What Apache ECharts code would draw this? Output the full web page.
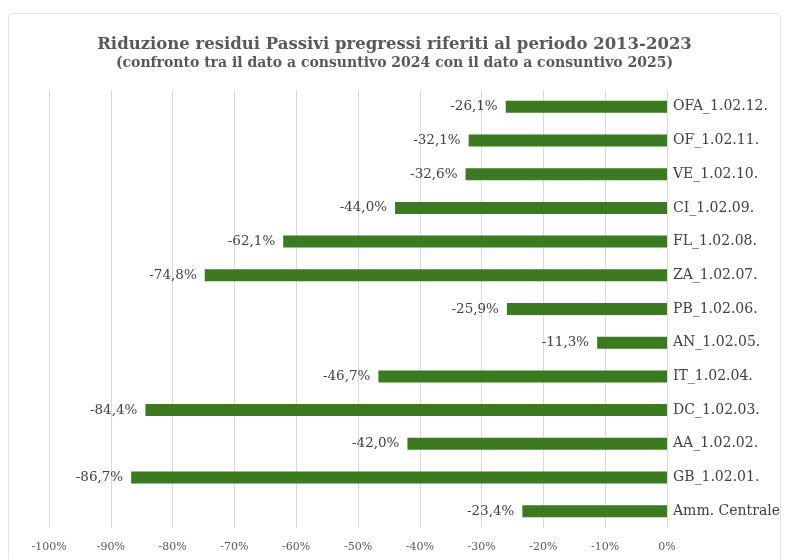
<!DOCTYPE html>
<html>
<head>
<meta charset="utf-8">
<script src="https://cdn.jsdelivr.net/npm/echarts@6/dist/echarts.min.js"></script>
<style>
  html, body { margin: 0; padding: 0; background: #ffffff; }
  #chart { width: 789px; height: 559px; }
</style>
</head>
<body>
<div id="chart"></div>
<script>
// Categories listed bottom-to-top (ECharts draws the first category at the bottom)
const categories = [
  'Amm. Centrale', 'GB_1.02.01.', 'AA_1.02.02.', 'DC_1.02.03.', 'IT_1.02.04.',
  'AN_1.02.05.', 'PB_1.02.06.', 'ZA_1.02.07.', 'FL_1.02.08.', 'CI_1.02.09.',
  'VE_1.02.10.', 'OF_1.02.11.', 'OFA_1.02.12.'
];
// Percentage reduction of past liabilities per unit
const reduction = [
  -23.4, -86.7, -42.0, -84.4, -46.7,
  -11.3, -25.9, -74.8, -62.1, -44.0,
  -32.6, -32.1, -26.1
];

const serif = '"DejaVu Serif", "Liberation Serif", serif';
const chart = echarts.init(document.getElementById('chart'), null, { renderer: 'canvas' });

chart.setOption({
  backgroundColor: '#ffffff',
  animation: false,
  title: {
    text: 'Riduzione residui Passivi pregressi riferiti al periodo 2013-2023',
    subtext: '(confronto tra il dato a consuntivo 2024 con il dato a consuntivo 2025)',
    left: 'center',
    top: 31,
    itemGap: 3,
    textStyle: { fontFamily: serif, fontSize: 16.5, fontWeight: 'bold', color: '#595959' },
    subtextStyle: { fontFamily: serif, fontSize: 14, fontWeight: 'bold', color: '#595959' }
  },
  // chart-area frame, open at the bottom edge of the page
  graphic: [{
    type: 'rect',
    shape: { x: 8.5, y: 13.5, width: 772, height: 560, r: 3 },
    style: { fill: 'none', stroke: '#e3e3e3', lineWidth: 1 },
    silent: true
  }],
  grid: { left: 49, right: 122, top: 90, bottom: 31, containLabel: false },
  xAxis: {
    type: 'value',
    min: -100,
    max: 0,
    interval: 10,
    axisLine: { show: false },
    axisTick: { show: false },
    splitLine: { show: true, lineStyle: { color: '#d9d9d9', width: 1 } },
    axisLabel: {
      margin: 14,
      fontFamily: serif,
      fontSize: 11,
      color: '#595959',
      formatter: v => v + '%'
    }
  },
  yAxis: {
    type: 'category',
    data: categories,
    position: 'right',
    axisLine: { show: false },
    axisTick: { show: false },
    axisLabel: {
      margin: 6,
      fontFamily: serif,
      fontSize: 14,
      color: '#404040'
    }
  },
  series: [{
    type: 'bar',
    data: reduction,
    barWidth: 12,
    itemStyle: { color: '#3b7a20' },
    label: {
      show: true,
      position: 'left',
      distance: 8,
      fontFamily: serif,
      fontSize: 13.5,
      color: '#404040',
      formatter: p => p.value.toFixed(1).replace('.', ',') + '%'
    }
  }]
});
</script>
</body>
</html>
